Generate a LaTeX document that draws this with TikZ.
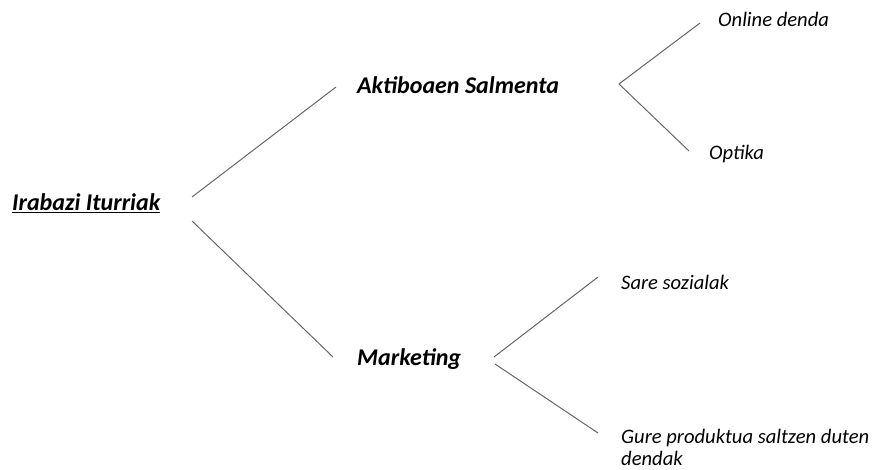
\documentclass[tikz,border=0pt]{standalone}
\usepackage{fontspec}
\setmainfont{Carlito}
\begin{document}
\begin{tikzpicture}[x=1pt,y=-1pt,
  main/.style={font=\fontsize{24}{28}\selectfont\bfseries\itshape, anchor=base west, inner sep=0pt},
  sub/.style={font=\fontsize{20.6}{22}\selectfont\itshape, anchor=base west, inner sep=0pt, align=left},
  conn/.style={draw=black!60, line width=1pt}]
\useasboundingbox (0,0) rectangle (875,470);
\node[main] (root) at (12,211) {\underline{Irabazi Iturriak}};
\node[main] (aktib) at (357,94) {Aktiboaen Salmenta};
\node[main] (mark) at (357,365) {Marketing};
\node[sub] (online) at (718,27) {Online denda};
\node[sub] (optika) at (709,160) {Optika};
\node[sub] (sare) at (621,289) {Sare sozialak};
\node[sub] (gure) at (621,465) {Gure produktua saltzen duten\\dendak};
% connector end points
\coordinate (r1) at (192,197);
\coordinate (r2) at (192,221);
\coordinate (a0) at (336,87);
\coordinate (m0) at (333,357);
\coordinate (aj) at (619,84);
\coordinate (o1) at (700,23);
\coordinate (o2) at (689,151);
\coordinate (mj1) at (494,357);
\coordinate (mj2) at (495,364);
\coordinate (s1) at (598,277);
\coordinate (g1) at (598,433);
\draw[conn] (r1) -- (a0);
\draw[conn] (r2) -- (m0);
\draw[conn] (o1) -- (aj) -- (o2);
\draw[conn] (mj1) -- (s1);
\draw[conn] (mj2) -- (g1);
\end{tikzpicture}
\end{document}
